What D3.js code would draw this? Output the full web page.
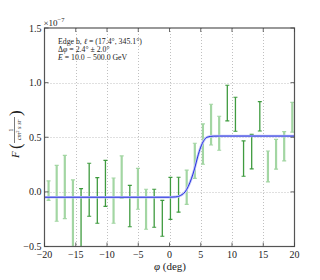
<!DOCTYPE html>
<html><head><meta charset="utf-8">
<script src="https://cdn.jsdelivr.net/npm/d3@7/dist/d3.min.js"></script>
<style>body{margin:0;background:#fff}svg{display:block}</style>
</head><body>
<svg id="c" width="320" height="280"></svg>
<script>
// Data (flux in units of 1e-7)
const phiCenters = [-19.35,-18.05,-16.75,-15.45,-14.15,-12.85,-11.55,-10.25,-8.95,-7.65,-6.35,-5.05,-3.75,-2.45,-1.15,0.15,1.45,2.75,4.05,5.35,6.65,7.95,9.25,10.55,11.85,13.15,14.45,15.75,17.05,18.35,19.65];
const fluxUpper = [0.100,0.243,0.335,0.109,0.029,0.262,0.130,0.289,0.127,0.329,0.060,0.216,0.024,0.024,-0.077,0.132,0.134,0.200,0.445,0.622,0.802,0.692,0.976,0.866,0.466,0.527,0.826,0.374,0.481,0.551,0.820];
const fluxLower = [-0.077,-0.269,-0.245,-0.62,-0.58,-0.223,-0.287,-0.132,-0.287,-0.059,-0.319,-0.159,-0.342,-0.324,-0.406,-0.251,-0.186,-0.114,0.124,0.253,0.429,0.381,0.649,0.555,0.143,0.210,0.557,0.091,0.208,0.283,0.546];
const binGroup = ["B","B","B","B","A","A","A","A","B","B","A","B","B","A","A","A","A","B","B","B","B","B","A","A","A","A","A","B","B","B","B"];
const fitPhi  = [-20,0,1,2,2.5,3,3.5,4,4.5,5,5.5,6,7,8,20];
const fitFlux = [-0.049,-0.049,-0.046,-0.025,0.0,0.05,0.12,0.21,0.32,0.41,0.47,0.50,0.51,0.511,0.511];
const xTicks = [-20,-15,-10,-5,0,5,10,15,20];
const yTicks = [-0.5,0.0,0.5,1.0,1.5];
const yTickLabels = ["\u22120.5","0.0","0.5","1.0","1.5"];
const xTickLabels = ["\u221220","\u221215","\u221210","\u22125","0","5","10","15","20"];

const svg = d3.select("#c");
const L=44.5, R=294.5, T=28, B=246.5;
const x = d3.scaleLinear().domain([-20,20]).range([L,R]);
const y = d3.scaleLinear().domain([-0.5,1.5]).range([B,T]);
const serif = "'Liberation Serif','DejaVu Serif',serif";

svg.append("clipPath").attr("id","clip").append("rect")
  .attr("x",L).attr("y",T).attr("width",R-L).attr("height",B-T);

// grid
const grid = svg.append("g").attr("stroke","#b0b0b0").attr("stroke-width",0.8).attr("stroke-dasharray","1,2");
grid.selectAll("line.gx").data(xTicks.slice(1,-1)).join("line")
  .attr("x1",d=>Math.round(x(d))+0.5).attr("x2",d=>Math.round(x(d))+0.5).attr("y1",T).attr("y2",B);
grid.selectAll("line.gy").data(yTicks.slice(1,-1)).join("line")
  .attr("y1",d=>Math.round(y(d))+0.5).attr("y2",d=>Math.round(y(d))+0.5).attr("x1",L).attr("x2",R);

const plot = svg.append("g").attr("clip-path","url(#clip)");

// error bars
const colors = {A:"#3f9b3f", B:"#a3d6a3"};
const widths = {A:1.3, B:2.2};
const bars = plot.selectAll("g.eb").data(phiCenters.map((p,i)=>({p,hi:fluxUpper[i],lo:fluxLower[i],g:binGroup[i]}))).join("g")
  .attr("stroke",d=>colors[d.g]).attr("stroke-width",d=>widths[d.g]);
bars.append("line").attr("x1",d=>x(d.p)).attr("x2",d=>x(d.p)).attr("y1",d=>y(d.hi)).attr("y2",d=>y(d.lo));
bars.append("line").attr("x1",d=>x(d.p)-2).attr("x2",d=>x(d.p)+2).attr("y1",d=>y(d.hi)).attr("y2",d=>y(d.hi)).attr("stroke-width",1.2);
bars.append("line").attr("x1",d=>x(d.p)-2).attr("x2",d=>x(d.p)+2).attr("y1",d=>y(d.lo)).attr("y2",d=>y(d.lo)).attr("stroke-width",1.2);

// fit curve
const line = d3.line().x((d,i)=>x(fitPhi[i])).y(d=>y(d)).curve(d3.curveMonotoneX);
plot.append("path").attr("d",line(fitFlux)).attr("fill","none").attr("stroke","#c6caf6").attr("stroke-width",2.6);
plot.append("path").attr("d",line(fitFlux)).attr("fill","none").attr("stroke","#2430e0").attr("stroke-width",1.0);

// frame
svg.append("rect").attr("x",L).attr("y",T).attr("width",R-L).attr("height",B-T)
  .attr("fill","none").attr("stroke","#555").attr("stroke-width",1.2);

// ticks
const tk = svg.append("g").attr("stroke","#444").attr("stroke-width",0.8);
xTicks.forEach(d=>{
  const xx=x(d);
  tk.append("line").attr("x1",xx).attr("x2",xx).attr("y1",B).attr("y2",B-4);
  tk.append("line").attr("x1",xx).attr("x2",xx).attr("y1",T).attr("y2",T+4);
});
yTicks.forEach(d=>{
  const yy=y(d);
  tk.append("line").attr("x1",L).attr("x2",L+4).attr("y1",yy).attr("y2",yy);
  tk.append("line").attr("x1",R).attr("x2",R-4).attr("y1",yy).attr("y2",yy);
});

// tick labels
svg.append("g").selectAll("text").data(xTicks).join("text")
  .attr("x",d=>x(d)).attr("y",B+11).attr("text-anchor","middle")
  .attr("font-family",serif).attr("font-size",10).attr("fill","#222")
  .text((d,i)=>xTickLabels[i]);
svg.append("g").selectAll("text").data(yTicks).join("text")
  .attr("x",L-3).attr("y",d=>y(d)+3.5).attr("text-anchor","end")
  .attr("font-family",serif).attr("font-size",10).attr("fill","#222")
  .text((d,i)=>yTickLabels[i]);

// x10^-7
const mult = svg.append("text").attr("x",L-1).attr("y",T-2).attr("font-family",serif).attr("font-size",9).attr("fill","#222");
mult.append("tspan").text("\u00d710");
mult.append("tspan").attr("dy",-4).attr("font-size",6.5).text("\u22127");

// annotation
const ann = svg.append("g").attr("font-family",serif).attr("font-size",7.8).attr("fill","#222");
const a1 = ann.append("text").attr("x",58).attr("y",44);
a1.append("tspan").text("Edge b, ");
a1.append("tspan").attr("font-style","italic").text("\u2113");
a1.append("tspan").text(" = (17.4\u00b0, 345.1\u00b0)");
const a2 = ann.append("text").attr("x",58).attr("y",51.8);
a2.append("tspan").text("\u0394");
a2.append("tspan").attr("font-style","italic").text("\u03c6");
a2.append("tspan").text(" = 2.4\u00b0 \u00b1 2.0\u00b0");
const a3 = ann.append("text").attr("x",58).attr("y",59.6);
a3.append("tspan").attr("font-style","italic").text("E");
a3.append("tspan").text(" = 10.0 \u2212 500.0 GeV");

// x label
const xl = svg.append("text").attr("x",170).attr("y",270).attr("text-anchor","middle")
  .attr("font-family",serif).attr("font-size",11).attr("fill","#222");
xl.append("tspan").attr("font-style","italic").text("\u03c6");
xl.append("tspan").text(" (deg)");

// y label
const yl = svg.append("g").attr("transform","translate(15,134) rotate(-90)")
  .attr("font-family",serif).attr("fill","#222");
yl.append("text").attr("x",-24).attr("y",4).attr("font-size",11).attr("font-style","italic").text("F");
yl.append("text").attr("x",-15).attr("y",5.5).attr("font-size",17).text("(");
yl.append("text").attr("x",4).attr("y",-2).attr("font-size",6.5).attr("text-anchor","middle").text("1");
yl.append("line").attr("x1",-9).attr("x2",17).attr("y1",-0.5).attr("y2",-0.5).attr("stroke","#222").attr("stroke-width",0.6);
const den = yl.append("text").attr("x",4).attr("y",6).attr("font-size",6.5).attr("text-anchor","middle").attr("font-style","italic");
den.append("tspan").text("cm");
den.append("tspan").attr("dy",-2).attr("font-size",4.5).attr("font-style","normal").text("2");
den.append("tspan").attr("dy",2).text(" s sr");
yl.append("text").attr("x",18).attr("y",5.5).attr("font-size",17).text(")");
</script>
</body></html>
